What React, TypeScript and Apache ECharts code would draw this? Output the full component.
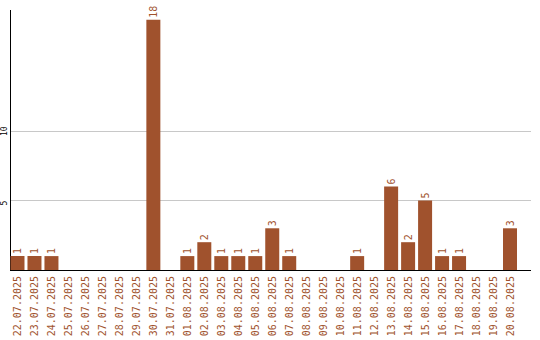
import React, { useEffect, useRef } from "react";
import * as echarts from "echarts";

const dates = [
  "22.07.2025", "23.07.2025", "24.07.2025", "25.07.2025", "26.07.2025",
  "27.07.2025", "28.07.2025", "29.07.2025", "30.07.2025", "31.07.2025",
  "01.08.2025", "02.08.2025", "03.08.2025", "04.08.2025", "05.08.2025",
  "06.08.2025", "07.08.2025", "08.08.2025", "09.08.2025", "10.08.2025",
  "11.08.2025", "12.08.2025", "13.08.2025", "14.08.2025", "15.08.2025",
  "16.08.2025", "17.08.2025", "18.08.2025", "19.08.2025", "20.08.2025",
];
const counts = [
  1, 1, 1, 0, 0, 0, 0, 0, 18, 0,
  1, 2, 1, 1, 1, 3, 1, 0, 0, 0,
  1, 0, 6, 2, 5, 1, 1, 0, 0, 3,
];
const shownTicks = [5, 10];
const yMax = 18.7;

const BAR = "#a0522d";
const FONT = "DejaVu Sans Mono";

export default function App() {
  const ref = useRef<HTMLDivElement>(null);
  useEffect(() => {
    const chart = echarts.init(ref.current!, null, { renderer: "svg" });
    chart.setOption({
      animation: false,
      grid: { left: 8.5, width: 510, top: 10, bottom: 70 },
      xAxis: {
        type: "category",
        data: dates,
        axisLine: { show: false },
        axisTick: { show: false },
        axisLabel: {
          interval: 0,
          rotate: 90,
          color: BAR,
          fontFamily: FONT,
          fontSize: 10,
          margin: 6,
        },
      },
      yAxis: {
        type: "value",
        min: 0,
        max: yMax,
        interval: 5,
        axisLine: { show: false },
        axisTick: { show: false },
        splitLine: { show: false },
        axisLabel: {
          rotate: 90,
          margin: 1,
          align: "left",
          padding: [0, 0, 0, -5],
          color: "#000",
          fontFamily: FONT,
          fontSize: 8,
          showMaxLabel: false,
          formatter: (v: number) => (shownTicks.includes(v) ? String(v) : ""),
        },
      },
      series: [
        {
          type: "bar",
          data: counts,
          barWidth: 14,
          itemStyle: { color: BAR },
          label: {
            show: true,
            position: "top",
            rotate: 90,
            align: "left",
            verticalAlign: "middle",
            distance: 2,
            color: BAR,
            fontFamily: FONT,
            fontSize: 10,
            formatter: (p: any) => (p.value > 0 ? String(p.value) : ""),
          },
        },
      ],
    });
    const left = 10;
    const right = 531;
    const y0 = chart.convertToPixel({ yAxisIndex: 0 }, 0) as number;
    const yTop = chart.convertToPixel({ yAxisIndex: 0 }, yMax) as number;
    const grid = shownTicks.map((t) => {
      const y = Math.round(chart.convertToPixel({ yAxisIndex: 0 }, t) as number) + 0.5;
      return {
        type: "line",
        z: -1,
        shape: { x1: left, y1: y, x2: right, y2: y },
        style: { stroke: "#c8c8c8", lineWidth: 1 },
      };
    });
    chart.setOption({
      graphic: [
        ...grid,
        {
          type: "line",
          shape: { x1: left + 0.5, y1: yTop, x2: left + 0.5, y2: y0 },
          style: { stroke: "#000", lineWidth: 1 },
        },
        {
          type: "line",
          shape: { x1: left, y1: Math.round(y0) + 0.5, x2: right, y2: Math.round(y0) + 0.5 },
          style: { stroke: "#000", lineWidth: 1 },
        },
      ],
    });
    return () => chart.dispose();
  }, []);
  return (
    <div
      ref={ref}
      style={{ position: "fixed", left: 0, top: 0, width: 540, height: 340, background: "#fff" }}
    />
  );
}
